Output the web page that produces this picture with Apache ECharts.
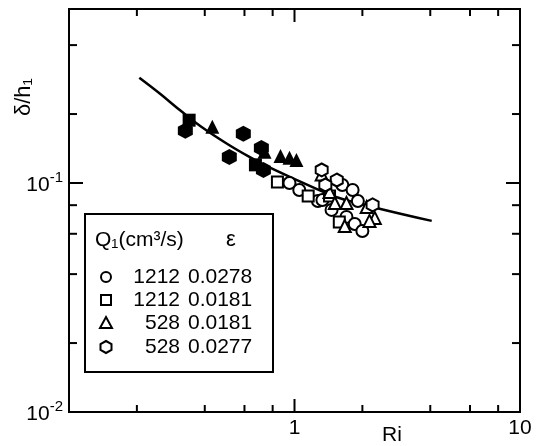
<!DOCTYPE html>
<html><head><meta charset="utf-8">
<script src="https://cdn.jsdelivr.net/npm/echarts@6/dist/echarts.min.js"></script>
<style>html,body{margin:0;padding:0;background:#fff}#c{width:537px;height:446px}</style>
</head><body><div id="c"></div>
<script>
// ---- data (Ri, delta/h1) ----
const openCircle = [[0.95,0.100],[1.05,0.0932],[1.27,0.0834],[1.46,0.0763],[1.63,0.098],[1.81,0.0932],[1.91,0.0834],[1.70,0.0711],[1.85,0.0662],[2.00,0.0617],[1.33,0.0843]];
const openSquare = [[0.84,0.101],[1.15,0.0878],[1.58,0.0676],[1.43,0.0878]];
const openTriangle = [[1.32,0.109],[1.43,0.0913],[1.51,0.0818],[1.70,0.0818],[2.09,0.0786],[2.27,0.0704],[2.15,0.0683],[1.67,0.0649]];
const openHexagon = [[1.32,0.114],[1.54,0.103],[2.22,0.0802],[1.37,0.098]];
const filledHexagon = [[0.328,0.169],[0.593,0.164],[0.514,0.130],[0.713,0.142],[0.728,0.114]];
const filledSquare = [[0.341,0.188],[0.671,0.120]];
const filledTriangle = [[0.432,0.176],[0.736,0.137],[0.867,0.131],[0.950,0.129],[1.02,0.126]];
const curveX = [0.205,0.251,0.318,0.386,0.504,0.631,0.774,1.23,1.58,2.31,4.06];
const curveY = [0.288,0.247,0.204,0.176,0.148,0.130,0.117,0.095,0.086,0.0778,0.0683];
// ticks
const xMinorTicks = [0.2,0.4,0.6,0.8,2,4,6,8];
const xMajorTicks = [1];
const yMinorTicks = [0.02,0.04,0.06,0.08,0.2,0.4];
const yMajorTicks = [0.1];
// legend
const legendQ = ['1212','1212','528','528'];
const legendEps = ['0.0278','0.0181','0.0181','0.0277'];

const FONT = 'Liberation Sans';
const hexPath = 'path://M8.66,0 L17.32,5 L17.32,15 L8.66,20 L0,15 L0,5 Z';

function xTickSeries(vals, len) {
  return {
    type: 'custom', silent: true, clip: false, z: 5,
    data: vals.map(v => [v, 0.1]),
    renderItem: function (params, api) {
      const cs = params.coordSys;
      const x = api.coord([api.value(0), 0.1])[0];
      const b = cs.y + cs.height, t = cs.y;
      return { type: 'group', children: [
        { type: 'line', shape: { x1: x, y1: b, x2: x, y2: b - len }, style: { stroke: '#000', lineWidth: 2 } },
        { type: 'line', shape: { x1: x, y1: t, x2: x, y2: t + len }, style: { stroke: '#000', lineWidth: 2 } }
      ]};
    }
  };
}
function yTickSeries(vals, len) {
  return {
    type: 'custom', silent: true, clip: false, z: 5,
    data: vals.map(v => [1, v]),
    renderItem: function (params, api) {
      const cs = params.coordSys;
      const y = api.coord([1, api.value(1)])[1];
      const l = cs.x, r = cs.x + cs.width;
      return { type: 'group', children: [
        { type: 'line', shape: { x1: l, y1: y, x2: l + len, y2: y }, style: { stroke: '#000', lineWidth: 2 } },
        { type: 'line', shape: { x1: r, y1: y, x2: r - len, y2: y }, style: { stroke: '#000', lineWidth: 2 } }
      ]};
    }
  };
}
function openSeries(data, symbol, size) {
  return { type: 'scatter', data: data, symbol: symbol, symbolSize: size, z: 3,
    itemStyle: { color: '#fff', borderColor: '#000', borderWidth: 2, opacity: 1 } };
}
function filledSeries(data, symbol, size) {
  return { type: 'scatter', data: data, symbol: symbol, symbolSize: size, z: 3,
    itemStyle: { color: '#000', borderColor: '#000', borderWidth: 0, opacity: 1 } };
}

const chart = echarts.init(document.getElementById('c'), null, { renderer: 'canvas' });

const legendRowsY = [277, 300, 323, 347];
const legendChildren = [
  { type: 'rect', shape: { x: 85, y: 214, width: 188, height: 158 }, style: { fill: '#fff', stroke: '#000', lineWidth: 2 } },
  { type: 'text', x: 95, y: 240, style: { text: 'Q\u2081(cm\u00b3/s)', font: '21px "' + FONT + '"', fill: '#000', verticalAlign: 'middle', align: 'left' } },
  { type: 'text', x: 231, y: 240, style: { text: '\u03b5', font: '22px "' + FONT + '"', fill: '#000', verticalAlign: 'middle', align: 'center' } }
];
const mk = { fill: '#fff', stroke: '#000', lineWidth: 2 };
legendChildren.push({ type: 'circle', shape: { cx: 106, cy: legendRowsY[0], r: 5 }, style: mk });
legendChildren.push({ type: 'rect', shape: { x: 101, y: legendRowsY[1] - 5, width: 10, height: 10 }, style: mk });
legendChildren.push({ type: 'polygon', shape: { points: [[106, legendRowsY[2] - 6], [112, legendRowsY[2] + 5], [100, legendRowsY[2] + 5]] }, style: mk });
legendChildren.push({ type: 'polygon', shape: { points: [[106, legendRowsY[3] - 6], [111.5, legendRowsY[3] - 3], [111.5, legendRowsY[3] + 3], [106, legendRowsY[3] + 6], [100.5, legendRowsY[3] + 3], [100.5, legendRowsY[3] - 3]] }, style: mk });
legendQ.forEach((q, i) => {
  legendChildren.push({ type: 'text', x: 180, y: legendRowsY[i], style: { text: q, font: '21px "' + FONT + '"', fill: '#000', verticalAlign: 'middle', align: 'right' } });
  legendChildren.push({ type: 'text', x: 188, y: legendRowsY[i], style: { text: legendEps[i], font: '21px "' + FONT + '"', fill: '#000', verticalAlign: 'middle', align: 'left' } });
});

chart.setOption({
  animation: false,
  backgroundColor: '#fff',
  textStyle: { fontFamily: FONT },
  grid: { left: 69, top: 9, right: 17, bottom: 34, show: true, borderColor: '#000', borderWidth: 2, backgroundColor: 'transparent' },
  xAxis: {
    type: 'log', logBase: 10, min: 0.1, max: 10,
    axisLine: { show: false }, axisTick: { show: false }, splitLine: { show: false },
    axisLabel: {
      color: '#000', fontSize: 21, margin: 6, fontFamily: FONT, showMinLabel: true, showMaxLabel: true,
      formatter: function (v) { const r = Math.round(v * 1000) / 1000; return r >= 1 ? String(Math.round(r)) : ''; }
    }
  },
  yAxis: {
    type: 'log', logBase: 10, min: 0.01, max: 0.575,
    axisLine: { show: false }, axisTick: { show: false }, splitLine: { show: false },
    axisLabel: {
      color: '#000', margin: 6, fontFamily: FONT, showMinLabel: true, showMaxLabel: false,
      formatter: function (v) {
        const l = Math.log10(v), e = Math.round(l);
        if (Math.abs(l - e) > 0.01 || e > -1) return '';
        return '{b|10}{s|' + e + '}';
      },
      rich: {
        b: { fontSize: 21, fontFamily: FONT, color: '#000', lineHeight: 26, verticalAlign: 'bottom' },
        s: { fontSize: 15, fontFamily: FONT, color: '#000', lineHeight: 15, verticalAlign: 'top' }
      }
    }
  },
  graphic: [
    { type: 'text', x: 392, y: 435, style: { text: 'Ri', font: '21px "' + FONT + '"', fill: '#000', align: 'center', verticalAlign: 'middle' } },
    { type: 'text', x: 24, y: 97, rotation: Math.PI / 2, style: { text: '\u03b4/h\u2081', font: '22px "' + FONT + '"', fill: '#000', align: 'center', verticalAlign: 'middle' } },
    { type: 'group', z: 50, children: legendChildren }
  ],
  series: [
    { type: 'line', data: curveX.map((x, i) => [x, curveY[i]]), smooth: 0.4, showSymbol: false, symbol: 'none', z: 2,
      lineStyle: { color: '#000', width: 2.5 } },
    filledSeries(filledHexagon, hexPath, [15, 16]),
    filledSeries(filledSquare, 'rect', 13),
    filledSeries(filledTriangle, 'triangle', 14),
    openSeries(openCircle, 'circle', 12),
    openSeries(openSquare, 'rect', 11),
    openSeries(openTriangle, 'triangle', 12),
    openSeries(openHexagon, hexPath, [12, 13]),
    xTickSeries(xMinorTicks, 7), xTickSeries(xMajorTicks, 13),
    yTickSeries(yMinorTicks, 8), yTickSeries(yMajorTicks, 14)
  ]
});
</script></body></html>
